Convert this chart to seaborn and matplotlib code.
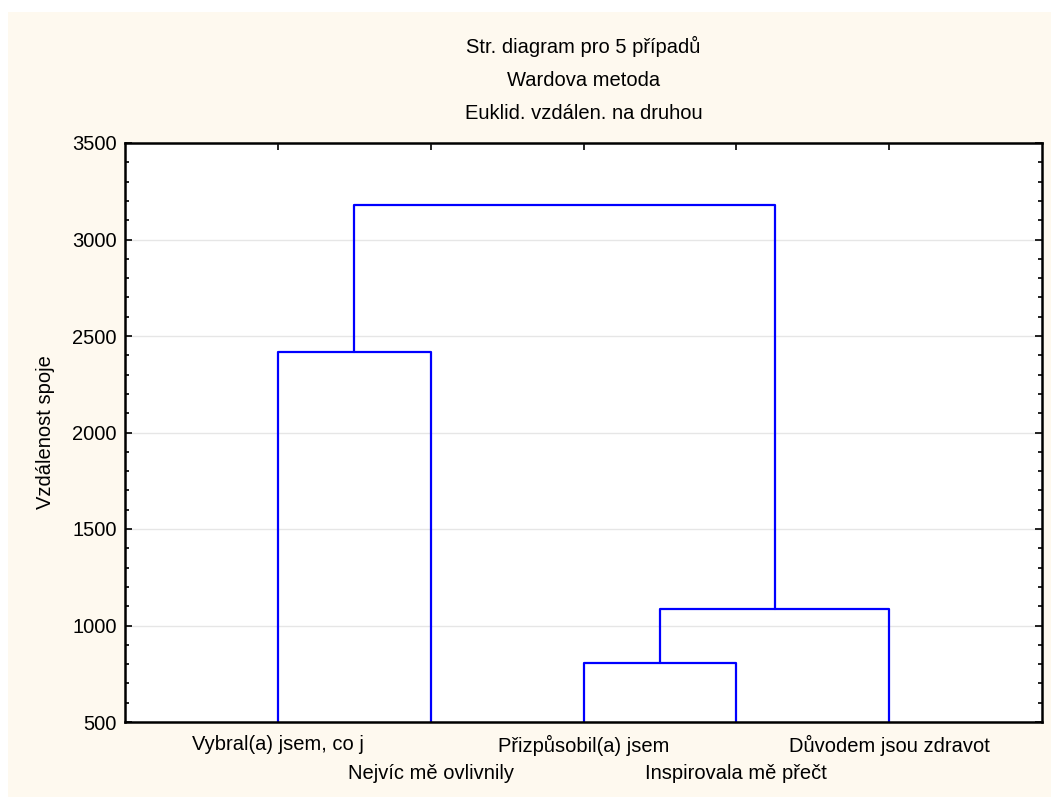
import numpy as np
import pandas as pd
import matplotlib
matplotlib.use('Agg')
import matplotlib.pyplot as plt
import seaborn as sns
from matplotlib.ticker import MultipleLocator

leaves = ['Vybral(a) jsem, co j', 'Nejvíc mě ovlivnily', 'Přizpůsobil(a) jsem',
          'Inspirovala mě přečt', 'Důvodem jsou zdravot']
# merges: (left member, right member, linkage distance); members >= 5 are earlier merges
merge_left = [2, 0, 5, 6]
merge_right = [3, 1, 4, 7]
merge_height = [806, 2417, 1085, 3179]
base = 500

sns.set_theme(style='white')
plt.rcParams['font.family'] = ['Liberation Sans', 'DejaVu Sans']
plt.rcParams['text.color'] = 'black'
plt.rcParams['axes.labelcolor'] = 'black'
plt.rcParams['xtick.labelcolor'] = 'black'
plt.rcParams['ytick.labelcolor'] = 'black'

# build U-shaped link segments
pos = {i: (i + 1.0, base) for i in range(len(leaves))}
rows = []
for k, (a, b, h) in enumerate(zip(merge_left, merge_right, merge_height)):
    xa, ya = pos[a]
    xb, yb = pos[b]
    for order, (x, y) in enumerate([(xa, ya), (xa, h), (xb, h), (xb, yb)]):
        rows.append({'link': k, 'order': order, 'x': x, 'y': y})
    pos[len(leaves) + k] = ((xa + xb) / 2, h)
links = pd.DataFrame(rows)

fig = plt.figure(figsize=(10.51, 7.97), dpi=100)
fig.patch.set_facecolor('white')
fig.patches.append(plt.Rectangle((8 / 1051, 0), 1, 1 - 12 / 797, transform=fig.transFigure,
                                 facecolor='#fef9ef', edgecolor='none', zorder=-10))
ax = fig.add_axes([125 / 1051, 1 - 722 / 797, 917 / 1051, 579 / 797])
ax.set_facecolor('white')

sns.lineplot(data=links, x='x', y='y', units='link', estimator=None, sort=False,
             color='#0000ff', linewidth=1.6, ax=ax, legend=False)

fs = 14.5
ax.set_xlim(0, len(leaves) + 1)
ax.set_ylim(500, 3500)
ax.yaxis.set_major_locator(MultipleLocator(500))
ax.yaxis.set_minor_locator(MultipleLocator(100))
ax.set_xticks(range(1, len(leaves) + 1))
ax.set_xticklabels(leaves)
ax.grid(axis='y', color='#e6e6e6', linewidth=1)
ax.set_axisbelow(True)
ax.tick_params(which='both', direction='in', top=True, right=True, left=True, bottom=True,
               color='black', labelsize=fs)
ax.tick_params(which='major', length=5, width=1.2)
ax.tick_params(axis='y', which='major', pad=6)
ax.tick_params(which='minor', length=3, width=1.2)
# alternate leaf labels on two rows
for i, t in enumerate(ax.xaxis.get_major_ticks()):
    t.set_pad(9 if i % 2 == 0 else 30)
for s in ax.spines.values():
    s.set_color('black')
    s.set_linewidth(1.8)
ax.set_xlabel('')
ax.set_ylabel('Vzdálenost spoje', fontsize=fs, labelpad=12)
ax.set_title('Str. diagram pro 5 případů\nWardova metoda\nEuklid. vzdálen. na druhou',
             fontsize=fs, linespacing=1.95, pad=17)

fig.savefig('out.png', dpi=100, facecolor=fig.get_facecolor())
